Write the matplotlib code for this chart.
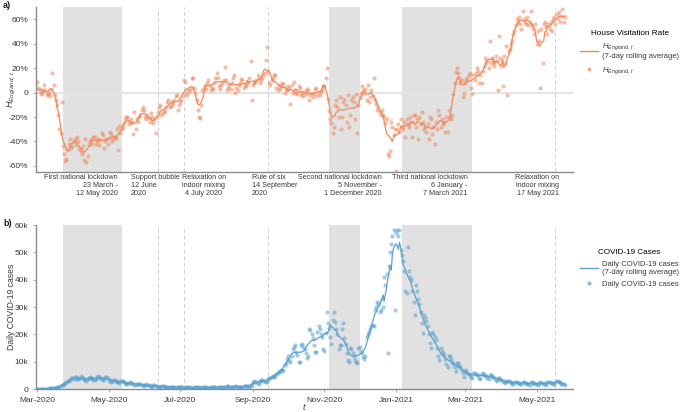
import matplotlib
matplotlib.use('Agg')
import matplotlib.pyplot as plt
import matplotlib.dates as mdates
import matplotlib.transforms as mtransforms
from matplotlib.lines import Line2D
from matplotlib.ticker import FuncFormatter, MultipleLocator
import numpy as np
import pandas as pd

plt.rcParams['font.family'] = ['Liberation Sans', 'DejaVu Sans']
plt.rcParams['mathtext.fontset'] = 'custom'
plt.rcParams['mathtext.rm'] = 'Liberation Sans'
plt.rcParams['mathtext.it'] = 'Liberation Sans:italic'

# ---------------- data ----------------
start_date = '2020-03-01'   # first day of both daily series

# House visitation rate H_England,t (%), daily values, one row per week (Sun..Sat)
hv_spring_2020 = [
    [9, 4, 1, -1, 0, 2, 6],
    [2, -2, -1, 0, -3, 3, 16],
    [6, -2, -6, -10, -18, -30, -33],
    [-8, -44, -50, -56, -54, -47, -42],
    [-38, -45, -44, -40, -38, -43, -36],
    [-40, -46, -48, -50, -44, -55, -38],
    [-57, -52, -42, -40, -38, -42, -36],
    [-36, -42, -40, -38, -43, -39, -33],
    [-35, -45, -40, -38, -42, -37, -32],
    [-34, -40, -38, -36, -37, -30, -47],
    [-27, -33, -30, -28, -25, -22, -20],
    [-20, -26, -24, -22, -25, -34, -16],
    [-30, -22, -24, -20, -18, -14, -12],
]
hv_summer_2020 = [
    [-14, -20, -22, -18, -21, -24, -17],
    [-20, -25, -22, -33, -20, -16, -12],
    [-10, -18, -17, -14, -16, -12, -8],
    [-6, -12, -11, -8, -9, -6, -3],
    [-2, -14, -10, -8, -6, -3, 10],
    [9, 0, -2, 2, 1, 4, 12],
    [12, 4, 0, -6, -14, -20, -21],
    [-10, 2, 4, 6, 3, 8, 10],
    [6, 2, 4, 3, 8, 12, 16],
    [12, 5, 3, 6, 8, 10, 21],
    [10, 2, 4, 6, 3, 8, 12],
    [14, 0, 4, 2, 6, 8, 11],
    [10, 4, 6, 5, 8, 9, 12],
]
hv_autumn_2020 = [
    [26, -6, 6, 8, 9, 10, 14],
    [12, 8, 10, 12, 14, 16, 27],
    [37, 18, 8, 6, 10, 12, 14],
    [14, 4, 2, 6, 3, 5, 8],
    [7, 0, 3, 2, 5, 4, -9],
    [6, 0, 9, 1, 0, -1, 5],
    [4, -2, 0, -3, 1, -1, 3],
    [2, -6, -2, 0, -4, -1, 3],
    [4, -3, 0, -2, 1, 2, 5],
    [5, 12, 20, -5, -15, -22, -25],
    [-33, -28, -10, -6, -12, -20, -4],
    [-30, -20, -8, -5, -10, -24, -2],
    [-28, -18, -6, -4, -8, -22, -1],
]
hv_winter_2021 = [
    [-33, -10, -4, 0, 5, 2, -1],
    [3, -6, 6, -8, -4, 2, -3],
    [12, -6, -9, -14, -12, -16, -18],
    [-14, -18, -20, -25, -22, -50, -52],
    [-48, -24, -28, -35, -30, -64, -30],
    [-26, -32, -22, -28, -30, -24, -36],
    [-22, -26, -28, -20, -24, -36, -18],
    [-18, -28, -22, -38, -20, -26, -16],
    [-24, -30, -28, -32, -26, -38, -20],
    [-22, -34, -28, -42, -24, -30, -14],
    [-18, -28, -22, -26, -24, -32, -20],
    [-32, -14, -20, -22, -18, -1, 8],
    [17, 20, 16, 12, 8, 10, -4],
]
hv_spring_2021 = [
    [0, 8, 10, 12, 14, 16, 4],
    [-1, 14, 10, 16, 20, 18, 8],
    [14, 8, 18, 22, 28, 24, 26],
    [20, 42, 24, 28, 26, 22, 30],
    [26, 2, 46, 28, 22, 5, 30],
    [24, 38, -2, 34, 36, 40, 42],
    [48, 50, 55, 60, 58, 62, 56],
    [52, 67, 60, 58, 56, 62, 55],
    [58, 67, 55, 52, 48, 56, 40],
    [50, 42, 4, 52, 24, 56, 58],
    [54, 48, 56, 52, 58, 50, 60],
    [62, 56, 64, 60, 66, 58, 63],
    [68, 58, 62],
]

# Daily COVID-19 cases (thousands), one row per week (Sun..Sat)
cases_spring_2020 = [
    [0.0, 0.0, 0.01, 0.02, 0.03, 0.05, 0.07],
    [0.1, 0.1, 0.15, 0.2, 0.25, 0.3, 0.35],
    [0.3, 0.4, 0.5, 0.6, 0.8, 0.9, 1.1],
    [1.3, 1.6, 2.0, 2.3, 2.6, 2.9, 3.1],
    [3.4, 4.2, 4.0, 3.6, 4.3, 4.5, 3.8],
    [3.5, 4.0, 4.6, 4.2, 4.0, 3.8, 3.3],
    [3.0, 3.6, 4.2, 4.5, 4.1, 3.9, 3.4],
    [3.2, 3.8, 4.4, 4.7, 4.3, 4.0, 3.6],
    [3.2, 3.6, 4.3, 4.5, 4.0, 3.4, 3.0],
    [2.6, 3.0, 3.4, 3.2, 3.0, 2.7, 2.4],
    [2.2, 2.8, 3.0, 2.8, 2.5, 2.2, 2.0],
    [1.8, 2.3, 2.5, 2.3, 2.1, 1.8, 1.6],
    [1.4, 1.9, 2.0, 1.9, 1.7, 1.5, 1.3],
]
cases_summer_2020 = [
    [1.1, 1.6, 1.7, 1.5, 1.4, 1.2, 1.0],
    [0.9, 1.3, 1.3, 1.2, 1.1, 0.9, 0.8],
    [0.7, 1.1, 1.1, 1.0, 0.9, 0.8, 0.6],
    [0.6, 0.9, 0.9, 0.8, 0.8, 0.7, 0.5],
    [0.5, 0.8, 0.8, 0.7, 0.7, 0.6, 0.5],
    [0.4, 0.7, 0.7, 0.6, 0.6, 0.5, 0.4],
    [0.4, 0.6, 0.7, 0.6, 0.6, 0.5, 0.4],
    [0.4, 0.7, 0.7, 0.6, 0.6, 0.5, 0.4],
    [0.5, 0.8, 0.8, 0.7, 0.7, 0.6, 0.5],
    [0.5, 0.9, 0.9, 0.8, 0.7, 0.6, 0.6],
    [0.6, 1.0, 1.0, 0.9, 0.8, 0.7, 0.6],
    [0.6, 1.0, 1.0, 0.9, 0.9, 0.8, 0.7],
    [0.7, 1.1, 1.2, 1.1, 1.0, 1.0, 0.9],
]
cases_autumn_2020 = [
    [1.1, 1.6, 2.4, 2.8, 2.6, 2.5, 2.2],
    [2.0, 3.0, 3.4, 3.2, 3.0, 2.8, 2.5],
    [2.4, 3.6, 4.0, 4.2, 4.4, 4.6, 4.5],
    [4.8, 5.6, 6.0, 6.2, 6.6, 6.8, 6.5],
    [7.0, 8.8, 9.5, 11.0, 12.0, 10.5, 10.0],
    [12.0, 14.5, 15.5, 16.0, 13.5, 12.5, 9.8],
    [10.0, 16.0, 16.5, 15.5, 14.5, 13.0, 11.5],
    [12.0, 22.0, 21.5, 20.0, 18.5, 16.0, 13.5],
    [13.5, 21.0, 23.0, 22.0, 20.0, 19.0, 14.5],
    [14.0, 20.5, 28.3, 24.0, 22.5, 19.0, 16.6],
    [25.2, 28.0, 24.5, 22.0, 20.0, 14.5, 16.0],
    [16.0, 22.0, 24.0, 18.6, 16.5, 13.0, 10.6],
    [9.8, 15.0, 14.5, 13.0, 12.0, 10.5, 9.8],
]
cases_winter_2021 = [
    [9.5, 15.0, 15.5, 14.0, 13.0, 11.8, 10.8],
    [12.0, 19.0, 20.0, 21.0, 22.0, 23.0, 23.5],
    [23.0, 29.0, 30.0, 32.0, 31.0, 28.0, 29.0],
    [33.0, 30.0, 41.0, 38.0, 42.0, 13.0, 45.0],
    [50.0, 53.0, 56.0, 58.0, 29.0, 57.0, 58.0],
    [56.0, 58.0, 51.0, 49.0, 47.0, 43.0, 36.0],
    [35.0, 52.0, 43.0, 41.0, 40.0, 36.0, 32.0],
    [27.0, 38.0, 36.0, 33.0, 31.0, 28.0, 24.0],
    [20.5, 27.0, 26.0, 25.0, 23.0, 20.0, 17.0],
    [15.0, 21.0, 20.0, 19.0, 18.0, 15.0, 12.0],
    [10.5, 15.0, 14.0, 13.0, 12.5, 11.0, 9.0],
    [8.0, 12.0, 12.0, 11.0, 10.0, 9.0, 8.0],
    [6.5, 9.5, 9.4, 8.5, 8.0, 7.0, 6.0],
]
cases_spring_2021 = [
    [4.5, 7.0, 6.5, 6.0, 5.5, 5.2, 4.5],
    [4.0, 6.0, 6.0, 5.5, 5.0, 5.0, 4.2],
    [3.8, 5.5, 5.8, 5.2, 5.0, 4.6, 4.0],
    [3.5, 5.0, 5.2, 4.6, 4.4, 4.0, 3.4],
    [3.0, 4.0, 4.0, 3.8, 3.4, 3.0, 2.6],
    [2.2, 3.0, 3.0, 2.8, 2.6, 2.4, 2.0],
    [1.8, 2.6, 2.6, 2.4, 2.3, 2.1, 1.8],
    [1.7, 2.5, 2.5, 2.3, 2.2, 2.0, 1.7],
    [1.6, 2.4, 2.4, 2.3, 2.1, 2.0, 1.7],
    [1.6, 2.3, 2.5, 2.3, 2.2, 2.0, 1.7],
    [1.6, 2.4, 2.6, 2.4, 2.2, 2.1, 1.8],
    [1.8, 2.6, 3.0, 2.8, 2.6, 2.4, 2.0],
    [2.0, 2.0, 1.4],
]

lockdown_starts = ['2020-03-23', '2020-11-05', '2021-01-06']
lockdown_ends = ['2020-05-12', '2020-12-01', '2021-03-07']
event_dates = ['2020-06-12', '2020-07-04', '2020-09-14', '2021-05-17']

event_labels = [
    'First national lockdown\n23 March -\n12 May 2020',
    'Support bubble\n12 June\n2020',
    'Relaxation on\nindoor mixing\n4 July 2020',
    'Rule of six\n14 September\n2020',
    'Second national lockdown\n5 November -\n1 December 2020',
    'Third national lockdown\n6 January -\n7 March 2021',
    'Relaxation on\nindoor mixing\n17 May 2021',
]
label_anchor_dates = ['2020-05-09', '2020-05-20', '2020-07-21', '2020-08-31',
                      '2020-12-20', '2021-03-03', '2021-05-20']
label_aligns = ['right', 'left', 'center', 'left', 'right', 'right', 'right']

x_tick_dates = ['2020-03-01', '2020-05-01', '2020-07-01', '2020-09-01',
                '2020-11-01', '2021-01-01', '2021-03-01', '2021-05-01']

# ---------------- build series ----------------
def flatten(*blocks):
    return [v for block in blocks for week in block for v in week]

hv = np.array(flatten(hv_spring_2020, hv_summer_2020, hv_autumn_2020,
                      hv_winter_2021, hv_spring_2021), dtype=float)
cases = np.array(flatten(cases_spring_2020, cases_summer_2020, cases_autumn_2020,
                         cases_winter_2021, cases_spring_2021), dtype=float) * 1000

dates_hv = pd.date_range(start_date, periods=len(hv), freq='D')
dates_cases = pd.date_range(start_date, periods=len(cases), freq='D')
hv_roll = pd.Series(hv, index=dates_hv).rolling(7, center=True, min_periods=1).mean()
cases_roll = pd.Series(cases, index=dates_cases).rolling(7, center=True, min_periods=1).mean()

# ---------------- style ----------------
ORANGE = '#EE8A60'
BLUE = '#5AA1CF'
SHADE = '#E1E1E1'
DASH = '#CFCFCF'
SPINE = '#8A8A8A'
TXT = '#3A3A3A'

W, H = 685, 412
fig = plt.figure(figsize=(W / 100, H / 100), dpi=100)
ax1 = fig.add_axes([36 / W, 1 - 172 / H, 537 / W, 165 / H])
ax2 = fig.add_axes([36 / W, 1 - 389 / H, 537 / W, 164 / H])

xlim = (pd.Timestamp('2020-02-29'), pd.Timestamp('2021-06-01'))

for ax in (ax1, ax2):
    for s, e in zip(lockdown_starts, lockdown_ends):
        ax.axvspan(pd.Timestamp(s), pd.Timestamp(e), color=SHADE, lw=0, zorder=0)
    for d in event_dates:
        ax.axvline(pd.Timestamp(d), color=DASH, lw=0.7, ls=(0, (4, 3)), zorder=0.5)
    ax.set_xlim(*xlim)
    for sp in ('top', 'right'):
        ax.spines[sp].set_visible(False)
    for sp in ('left', 'bottom'):
        ax.spines[sp].set_color(SPINE)
        ax.spines[sp].set_linewidth(1.0)
    ax.tick_params(labelsize=6, colors=TXT, length=2, width=0.5)
    ax.tick_params(axis='both', color=SPINE)

# ---- top panel ----
ax1.axhline(0, color='#E4E4E4', lw=1.5, zorder=0.6)
ax1.scatter(dates_hv, hv, s=9, color=ORANGE, alpha=0.55, lw=0, zorder=2)
ax1.plot(hv_roll.index, hv_roll.values, color=ORANGE, lw=0.9, zorder=3)
ax1.set_ylim(-65, 70)
ax1.yaxis.set_major_locator(MultipleLocator(20))
ax1.yaxis.set_major_formatter(FuncFormatter(lambda v, p: '0' if abs(v) < 1e-9 else f'{v:.0f}%'))
ax1.set_xticks([])
ax1.set_ylabel('$H_{England,\\,t}$', fontsize=6.5, color=TXT)
ax1.yaxis.set_label_coords(-0.034, 0.5)

trans = mtransforms.blended_transform_factory(ax1.transData, ax1.transAxes)
for lab, d, ha in zip(event_labels, label_anchor_dates, label_aligns):
    ax1.text(pd.Timestamp(d), -0.015, lab, transform=trans, ha=ha, va='top',
             multialignment=ha, fontsize=5.2, linespacing=1.15, color=TXT)

# ---- bottom panel ----
ax2.scatter(dates_cases, cases, s=9, color=BLUE, alpha=0.55, lw=0, zorder=2)
ax2.plot(cases_roll.index, cases_roll.values, color=BLUE, lw=0.9, zorder=3)
ax2.set_ylim(0, 60000)
ax2.yaxis.set_major_locator(MultipleLocator(10000))
ax2.yaxis.set_major_formatter(FuncFormatter(lambda v, p: '0' if v == 0 else f'{v/1000:.0f}k'))
ax2.set_xticks([pd.Timestamp(d) for d in x_tick_dates])
ax2.xaxis.set_major_formatter(mdates.DateFormatter('%b-%Y'))
ax2.set_ylabel('Daily COVID-19 cases', fontsize=6.2, color=TXT)
ax2.yaxis.set_label_coords(-0.037, 0.5)
ax2.set_xlabel('$t$', fontsize=6.5, color=TXT)
ax2.xaxis.set_label_coords(0.5, -0.075)

# ---- legends ----
leg_kw = dict(loc='upper left', frameon=False, fontsize=5.5, title_fontsize=5.9,
              handlelength=2.3, handletextpad=0.6, borderpad=0, borderaxespad=0,
              labelspacing=0.6, labelcolor=TXT)
h1 = [Line2D([], [], color=ORANGE, lw=1.0),
      Line2D([], [], color=ORANGE, marker='o', ls='', ms=3, alpha=0.7, mew=0)]
fig.legend(h1, ['$H_{England,\\,t}$\n(7-day rolling average)', '$H_{England,\\,t}$'],
           title='House Visitation Rate', bbox_to_anchor=(580 / W, 1 - 30 / H), **leg_kw)
h2 = [Line2D([], [], color=BLUE, lw=1.0),
      Line2D([], [], color=BLUE, marker='o', ls='', ms=3, alpha=0.7, mew=0)]
fig.legend(h2, ['Daily COVID-19 cases\n(7-day rolling average)', 'Daily COVID-19 cases'],
           title='COVID-19 Cases', bbox_to_anchor=(580 / W, 1 - 249 / H), **leg_kw)

fig.text(3 / W, 1 - 6 / H, 'a)', fontsize=6.5, fontweight='bold', va='center', color='#222222')
fig.text(3 / W, 1 - 223 / H, 'b)', fontsize=6.5, fontweight='bold', va='center', color='#222222')

fig.savefig('out.png', dpi=100)
